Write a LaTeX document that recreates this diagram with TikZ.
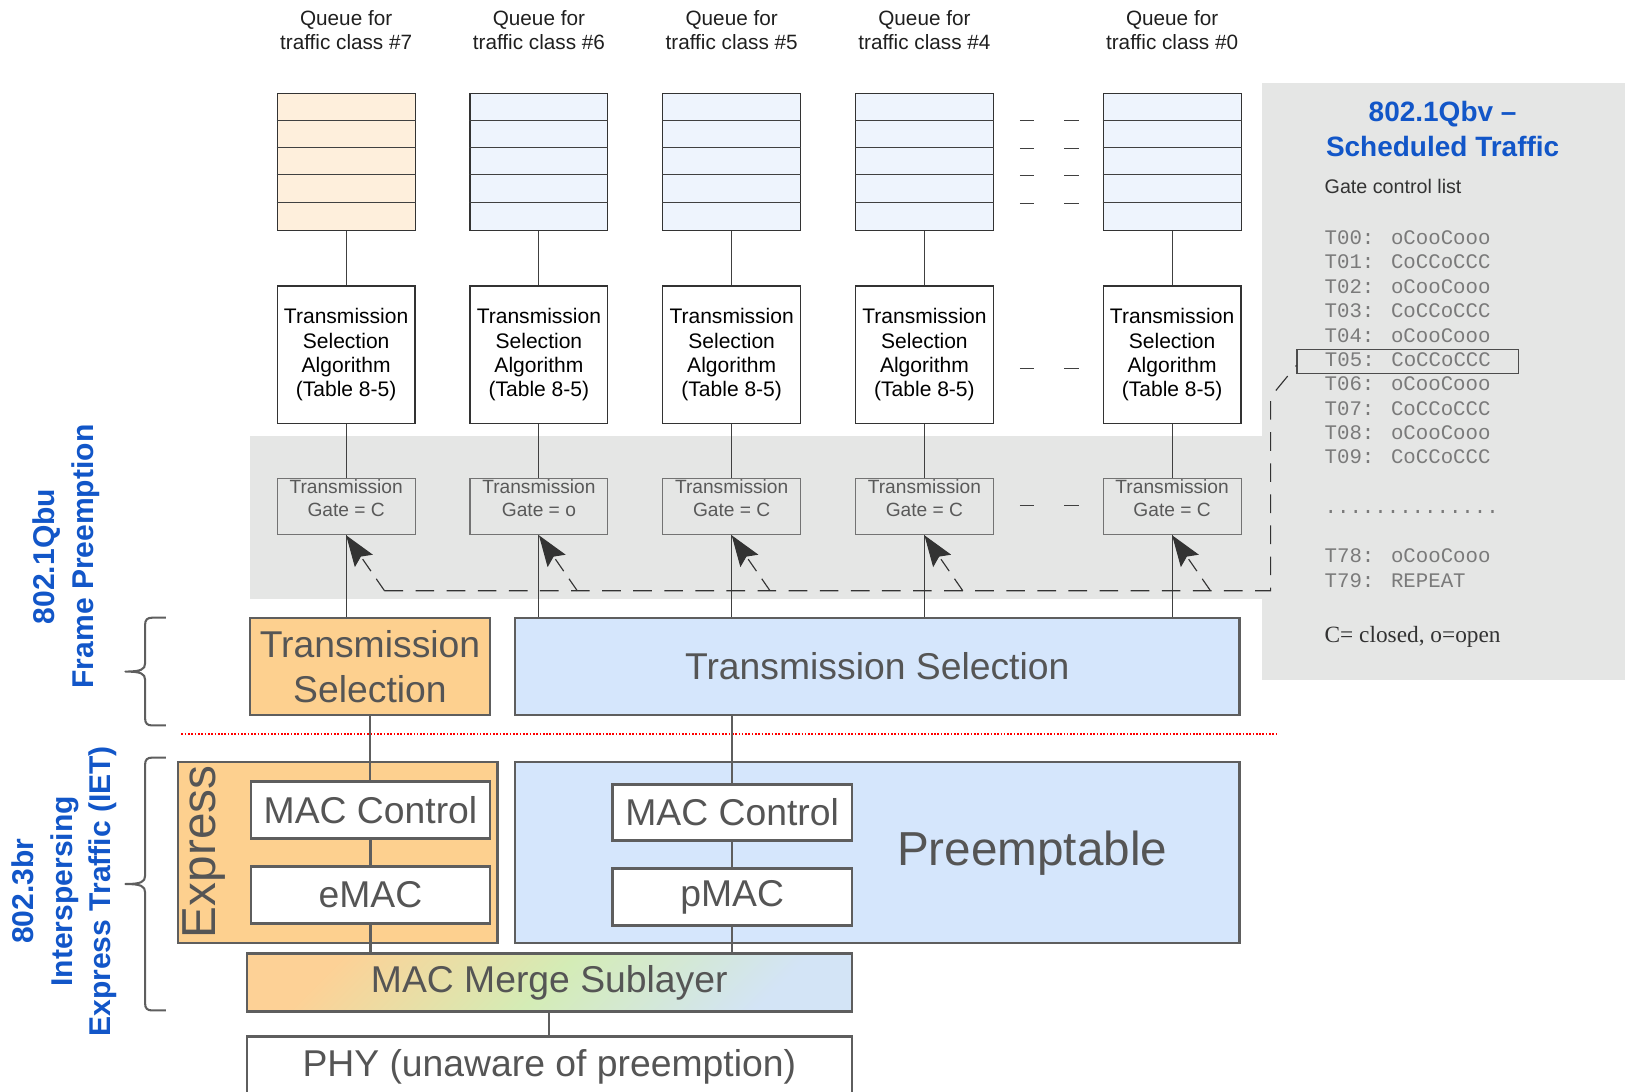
\documentclass[tikz,border=0pt]{standalone}
\usepackage{fontspec}
\setmainfont{Liberation Sans}
\newfontfamily\monofont{Liberation Mono}
\newfontfamily\seriffont{Liberation Serif}
\usetikzlibrary{arrows.meta}
\definecolor{orfill}{HTML}{FDD08F}
\definecolor{blfill}{HTML}{D5E6FC}
\definecolor{qor}{HTML}{FEEFDC}
\definecolor{qbl}{HTML}{EEF4FD}
\definecolor{panel}{HTML}{E5E6E5}
\definecolor{edge}{HTML}{5E5E5E}
\definecolor{txt}{HTML}{555555}
\definecolor{stdblue}{HTML}{1256C8}
\definecolor{monocol}{HTML}{7A7A7A}
\definecolor{mgA}{HTML}{FDD196}
\definecolor{mgB}{HTML}{D4ECB6}
\definecolor{mgC}{HTML}{D3E4F6}
\begin{document}
\begin{tikzpicture}[x=1pt,y=-1pt,
  hdr/.style={align=center, font=\fontsize{20}{24}\selectfont, text=black!88, inner sep=0pt},
  queuebox/.style={draw=black!80, line width=1pt, minimum width=133pt, minimum height=132pt, inner sep=0pt},
  tsabox/.style={draw=black!80, fill=white, line width=1.1pt, minimum width=133pt, minimum height=133pt, inner sep=0pt, align=center, font=\fontsize{20.3}{23.5}\selectfont},
  gatebox/.style={draw=black!55, line width=1pt, minimum width=133pt, minimum height=54pt, inner sep=0pt},
  gatetext/.style={align=center, font=\fontsize{18.5}{22}\selectfont, text=black!65, inner sep=0pt},
  bigbox/.style={draw=edge, line width=2.2pt, inner sep=0pt, font=\fontsize{36}{43}\selectfont, text=txt, align=center},
  whitebox/.style={bigbox, fill=white, minimum width=231pt, minimum height=55pt},
  link/.style={draw=black!75, line width=1.1pt},
  qline/.style={draw=black!75, line width=0.9pt},
  biglink/.style={draw=edge, line width=2pt},
  ctrl/.style={draw=black!80, line width=1.1pt, dash pattern=on 18pt off 12pt},
  ctrlarrow/.style={draw=black!80, line width=1.1pt, dash pattern=on 14pt off 9pt, -{Stealth[length=30pt,width=21pt,inset=5pt]}},
  sidelabel/.style={rotate=90, align=center, font=\bfseries\fontsize{29}{37.5}\selectfont, text=stdblue},
  mono/.style={anchor=west, inner sep=0pt, text height=13pt, text depth=3pt, font=\monofont\fontsize{20}{23.5}\selectfont, text=monocol},
  ellip/.style={draw=black!75, line width=1pt}
]
\useasboundingbox (0,0) rectangle (1568,1053);
% grey backgrounds
\fill[panel] (1218,80) rectangle (1568,656);
\fill[panel] (241,421) rectangle (1218,578);

% big boxes of the lower part
\node[bigbox, fill=orfill, minimum width=232pt, minimum height=94pt] (tsE) at (357,643) {Transmission\\Selection};
\node[bigbox, fill=blfill, minimum width=699pt, minimum height=94pt] (tsP) at (846.5,643) {Transmission Selection};

% columns
\foreach \c/\x/\qf/\g in {7/334/qor/C, 6/520/qbl/o, 5/706/qbl/C, 4/892/qbl/C, 0/1131/qbl/C} {
  \node[hdr] (h\c) at (\x,29) {Queue for\\traffic class \#\c};
  \node[queuebox, fill=\qf] (q\c) at (\x,156) {};
  \foreach \k in {1,2,3,4}
    \draw[qline] ([yshift={-26.4pt*\k}]q\c.north west) -- ([yshift={-26.4pt*\k}]q\c.north east);
  \node[tsabox] (a\c) at (\x,342.5) {Transmission\\Selection\\Algorithm\\(Table 8-5)};
  \node[gatebox] (g\c) at (\x,489) {};
  \node[gatetext] (gt\c) at (\x,481) {Transmission\\Gate = \g};
  \draw[link] (q\c) -- (a\c);
  \draw[link] (a\c) -- (g\c);
  \coordinate (d\c) at (\x+37,570);
}
\draw[link] (g7) -- (g7 |- tsE.north);
\foreach \c in {6,5,4,0} \draw[link] (g\c) -- (g\c |- tsP.north);

% ellipsis dashes between #4 and #0
\foreach \yy in {116,143,169,196,356,488} {
  \draw[ellip] (984,\yy) -- (998,\yy);
  \draw[ellip] (1027,\yy) -- (1041,\yy);
}

% right panel
\node[font=\bfseries\fontsize{27}{33}\selectfont, text=stdblue, align=center] (title) at (1392,124.5) {802.1Qbv --\\Scheduled Traffic};
\node[anchor=west, inner sep=0pt, font=\fontsize{19}{22}\selectfont, text=black!80] (gcl) at (1278,180) {Gate control list};
\foreach \n/\v/\yy in {00/oCooCooo/231, 01/CoCCoCCC/254.5, 02/oCooCooo/278, 03/CoCCoCCC/301.5, 04/oCooCooo/325, 06/oCooCooo/372, 07/CoCCoCCC/395.5, 08/oCooCooo/419, 09/CoCCoCCC/442.5, 78/oCooCooo/538, 79/REPEAT/561.5}
  \node[mono] (t\n) at (1278,\yy) {T\n: \v};
\node[mono, draw=black!70, line width=1pt, inner xsep=27pt, inner ysep=3.5pt] (t05) at (1251,348.5) {T05: CoCCoCCC};
\node[mono] (tdots) at (1278,490) {..............};
\node[anchor=west, inner sep=0pt, font=\seriffont\fontsize{22.5}{26}\selectfont, text=black!80] (legend) at (1278,615) {C= closed, o=open};

% gate control (dashed) paths
\coordinate (dE) at (1226,570);
\coordinate (dU) at (1226,383);
\draw[ctrl] (d7) -- (dE) -- (dU) -- ([yshift=-4pt]t05.west);
\foreach \c in {7,6,5,4,0} \draw[ctrlarrow] (d\c) -- (g\c.south);

% separator
\coordinate (sepL) at (175,708);
\coordinate (sepR) at (1232,708);
\draw[red, line width=1.6pt, dash pattern=on 1.6pt off 1.6pt] (sepL) -- (sepR);

% IET boxes
\node[bigbox, fill=orfill, minimum width=308pt, minimum height=175pt] (expr) at (326,822.5) {};
\node[rotate=90, inner sep=0pt, font=\fontsize{46}{50}\selectfont, text=txt] (exprlbl) at (197,822) {Express};
\node[bigbox, fill=blfill, minimum width=699pt, minimum height=175pt] (pre) at (846.5,822.5) {};
\node[inner sep=0pt, font=\fontsize{46}{50}\selectfont, text=txt] (prelbl) at (996,823) {Preemptable};

\node[whitebox] (mcE) at (357.5,781.5) {MAC Control};
\node[whitebox] (emac) at (357.5,863.5) {eMAC};
\node[whitebox, minimum height=54pt] (mcP) at (706.5,784) {MAC Control};
\node[whitebox] (pmac) at (706.5,865.5) {pMAC};
\node[bigbox, left color=mgA, right color=mgC, middle color=mgB, shading angle=45, minimum width=584pt, minimum height=56pt] (merge) at (530,948) {MAC Merge Sublayer};
\node[bigbox, fill=white, minimum width=584pt, minimum height=58pt] (phy) at (530,1029) {PHY (unaware of preemption)};

\draw[biglink] (tsE.south) -- (tsE.south |- mcE.north);
\draw[biglink] (mcE) -- (emac);
\draw[biglink] (emac.south) -- (emac.south |- merge.north);
\draw[biglink] (mcP.north) -- (mcP.north |- tsP.south);
\draw[biglink] (mcP) -- (pmac);
\draw[biglink] (pmac.south) -- (pmac.south |- merge.north);
\draw[biglink] (merge) -- (phy);

% braces
\draw[edge, line width=2pt, line join=round] (160,596) -- (147,596) .. controls (142,596) and (140,598) .. (140,603) -- (140,640) .. controls (140,646) and (136,648) .. (121,648) .. controls (136,648) and (140,650) .. (140,656) -- (140,693) .. controls (140,698) and (142,700) .. (147,700) -- (160,700);
\draw[edge, line width=2pt, line join=round] (160,731) -- (147,731) .. controls (142,731) and (140,733) .. (140,738) -- (140,845) .. controls (140,851) and (136,853) .. (121,853) .. controls (136,853) and (140,855) .. (140,861) -- (140,968) .. controls (140,973) and (142,975) .. (147,975) -- (160,975);

% side labels
\node[sidelabel] (lblQbu) at (64,537) {802.1Qbu\\Frame Preemption};
\node[sidelabel] (lblIET) at (62,860) {802.3br\\Interspersing\\Express Traffic (IET)};
\end{tikzpicture}
\end{document}
